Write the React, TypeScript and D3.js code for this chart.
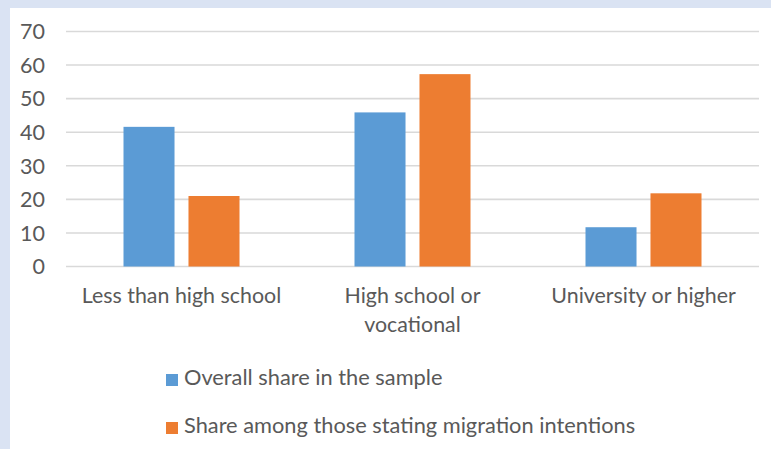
import React from "react";
import * as d3 from "d3";

const categories = ["Less than high school", "High school or\nvocational", "University or higher"];
const seriesNames = ["Overall share in the sample", "Share among those stating migration intentions"];
const overallShare = [41.6, 45.9, 11.7];
const migrationShare = [21.0, 57.3, 21.8];
const yTicks = [0, 10, 20, 30, 40, 50, 60, 70];
const colors = ["#5B9BD5", "#ED7D31"];

const W = 771;
const H = 449;
const FONT = "Lato, 'Open Sans', sans-serif";
const TEXT = "#595959";

export default function App() {
  const x0 = d3.scaleBand<string>().domain(categories).range([66, 759]).paddingInner(0).paddingOuter(0);
  const bw = x0.bandwidth();
  const groupW = 116;
  const x1 = d3
    .scaleBand<string>()
    .domain(seriesNames)
    .range([(bw - groupW) / 2, (bw + groupW) / 2])
    .paddingInner(0.215)
    .paddingOuter(0);
  const y = d3.scaleLinear().domain([0, 70]).range([266.5, 31.5]);
  const series = [overallShare, migrationShare];

  return (
    <svg
      width={W}
      height={H}
      style={{ position: "absolute", left: 0, top: 0, display: "block" }}
      fontFamily={FONT}
    >
      <rect x={0} y={0} width={W} height={H} fill="#dae3f3" />
      <rect x={10} y={8} width={W - 10} height={H - 8} fill="#ffffff" />
      {yTicks.map((t) => (
        <g key={t}>
          <line x1={66} x2={759} y1={y(t)} y2={y(t)} stroke="#d9d9d9" strokeWidth={1.6} />
          <text x={45} y={y(t)} dy="0.36em" textAnchor="end" fontSize={21.5} fill={TEXT}>
            {t}
          </text>
        </g>
      ))}
      {categories.map((c, ci) => (
        <g key={c} transform={`translate(${x0(c)},0)`}>
          {series.map((vals, si) => (
            <rect
              key={si}
              x={x1(seriesNames[si])}
              y={y(vals[ci])}
              width={x1.bandwidth()}
              height={y(0) - y(vals[ci])}
              fill={colors[si]}
            />
          ))}
          <text x={bw / 2} y={303} textAnchor="middle" fontSize={21.4} fill={TEXT}>
            {c.split("\n").map((line, li) => (
              <tspan key={li} x={bw / 2} dy={li === 0 ? 0 : 29}>
                {line}
              </tspan>
            ))}
          </text>
        </g>
      ))}
      {seriesNames.map((s, si) => (
        <g key={s}>
          <rect x={166} y={374 + si * 48} width={12} height={12} fill={colors[si]} />
          <text x={184} y={385 + si * 48} fontSize={21.8} fill={TEXT}>
            {s}
          </text>
        </g>
      ))}
    </svg>
  );
}
